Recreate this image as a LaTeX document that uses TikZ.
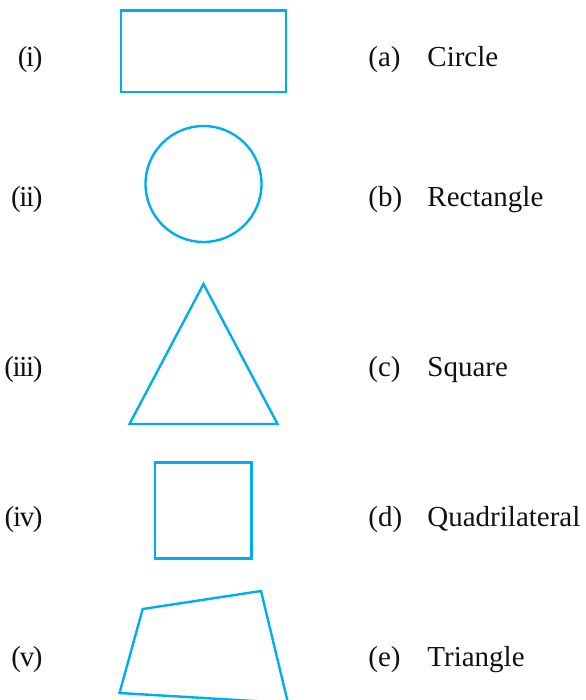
\documentclass[tikz,border=0pt]{standalone}
\usepackage{fontspec}
\setmainfont{Liberation Serif}
\newfontfamily\romfont[LetterSpace=-4.5]{Liberation Serif}
\usepackage{xcolor}
\usepackage{tikz}
\definecolor{cyanline}{HTML}{00AEEF}
\definecolor{inkgray}{HTML}{111111}
\tikzset{shp/.style={cyanline,line width=1.2pt,line join=miter},
  rom/.style={anchor=base east,inner sep=0pt,text=inkgray,font=\romfont\fontsize{14.5}{17}\selectfont},
  lett/.style={anchor=base west,inner sep=0pt,text=inkgray,font=\fontsize{14.5}{17}\selectfont}}

\begin{document}
\begin{tikzpicture}[x=0.5pt,y=-0.5pt]
\useasboundingbox (0,0) rectangle (585,700);
% figures
\draw[shp,line width=1.35pt] (121,10.5) rectangle (286,92);
\draw[shp] (203.5,184) circle (58);
\coordinate (T1) at (203.5,284); \coordinate (T2) at (129.5,424); \coordinate (T3) at (277.5,424);
\draw[shp] (T1)--(T2)--(T3)--cycle;
\draw[shp,line width=1.35pt] (155,462.5) rectangle (251.5,558.5);
\coordinate (Q1) at (142.7,609); \coordinate (Q2) at (261,591); \coordinate (Q3) at (288,703); \coordinate (Q4) at (119.5,693);
\draw[shp] (Q1)--(Q2)--(Q3)--(Q4)--cycle;
% left column
\node[rom] (r1) at (43,66.5) {(i)}; \node[rom] (r2) at (43,206.5) {(ii)}; \node[rom] (r3) at (43,376) {(iii)};
\node[rom] (r4) at (43,526.5) {(iv)}; \node[rom] (r5) at (43,666) {(v)};
% right column
\node[lett] (la) at (368,66.5) {(a)}; \node[lett] (na) at (427,66.5) {Circle};
\node[lett] (lb) at (368,206.5) {(b)}; \node[lett] (nb) at (427,206.5) {Rectangle};
\node[lett] (lc) at (368,376) {(c)}; \node[lett] (nc) at (427,376) {Square};
\node[lett] (ld) at (368,526.5) {(d)}; \node[lett] (nd) at (427,526.5) {Quadrilateral};
\node[lett] (le) at (368,666) {(e)}; \node[lett] (ne) at (427,666) {Triangle};
\end{tikzpicture}
\end{document}
